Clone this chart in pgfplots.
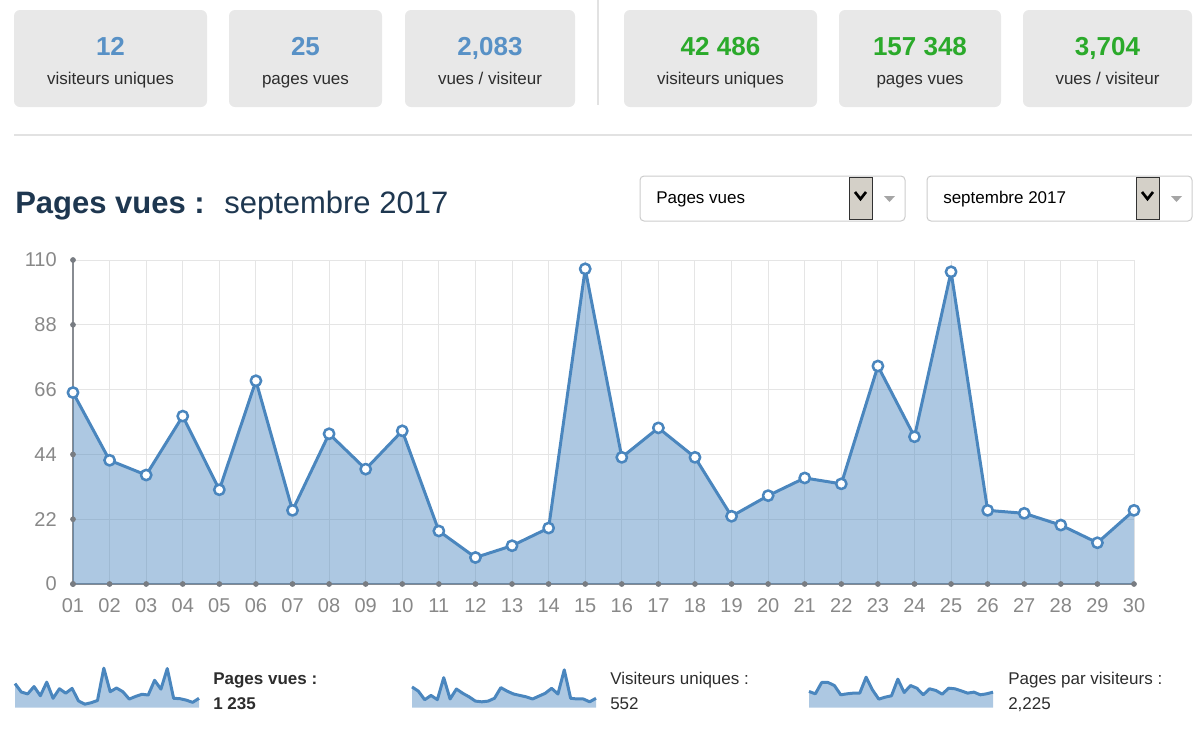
\documentclass[border=0pt]{standalone}
\usepackage{pgfplots}
\pgfplotsset{compat=1.18}
\usepackage{pgfplotstable}
\usepackage{fontspec}
\setmainfont{Liberation Sans}

\definecolor{lineblue}{RGB}{74,134,190}
\definecolor{gridgray}{RGB}{229,229,229}
\definecolor{axisgray}{RGB}{136,140,146}
\definecolor{dotgray}{RGB}{120,124,130}
\definecolor{labelgray}{RGB}{136,136,136}
\definecolor{cardgray}{RGB}{232,232,232}
\definecolor{numblue}{RGB}{88,145,198}
\definecolor{numgreen}{RGB}{43,170,43}
\definecolor{titlenavy}{RGB}{30,55,80}
\definecolor{textdark}{RGB}{45,45,45}
\definecolor{linegray}{RGB}{226,226,226}
\definecolor{boxgray}{RGB}{204,204,204}
\definecolor{btngray}{RGB}{212,208,200}
\definecolor{btnborder}{RGB}{50,50,50}
\definecolor{arrowgray}{RGB}{165,165,165}

\pgfplotstableread{
day pages visitors ratio
1 65 29 2.11
2 42 23 1.80
3 37 11 3.29
4 57 17 3.29
5 32 11 2.89
6 69 42 1.67
7 25 12 1.80
8 51 26 1.89
9 39 20 1.89
10 52 15 3.99
11 18 9 2.32
12 9 8 1.10
13 13 9 1.36
14 19 13 1.54
15 107 28 3.73
16 43 23 1.97
17 53 19 2.89
18 43 17 2.54
19 23 15 1.67
20 30 12 2.46
21 36 16 2.24
22 34 20 1.75
23 74 27 2.54
24 50 19 2.46
25 106 53 2.19
26 25 13 1.89
27 24 12 2.02
28 20 12 1.67
29 14 8 1.80
30 25 13 2.02
}\data

\pgfplotstableread{
x y
1 0
1 22
1 44
1 66
1 88
1 110
}\ydots

\pgfplotsset{
  spark/.style={
    anchor=south west, scale only axis,
    width=138pt, height=30pt,
    xmin=1, xmax=30, ymin=0,
    axis lines=none, ticks=none, clip=false,
  }
}

\begin{document}
\begin{tikzpicture}[x=0.75pt, y=-0.75pt]
\useasboundingbox (0,0) rectangle (1200,729);
\coordinate (mainO) at (73,584);
\coordinate (s1) at (15,707.5);
\coordinate (s2) at (412,707.5);
\coordinate (s3) at (809,707.5);

% ---- top cards
\foreach \a/\b in {14/207, 229/382, 405/575, 624/817, 839/1001, 1023/1192}{
  \fill[cardgray, rounded corners=4.5pt] (\a,10) rectangle (\b,107);
}
\draw[linegray, line width=1.5pt] (598,0) -- (598,105);
\draw[linegray, line width=1.5pt] (14,135) -- (1192,135);

\tikzset{num/.style={anchor=base, inner sep=0pt, font=\fontsize{19.5}{22}\selectfont\bfseries},
         lab/.style={anchor=base, inner sep=0pt, text=textdark, font=\fontsize{12.75}{15}\selectfont}}
\node[num, text=numblue] at (110.5,55) {12};
\node[lab] at (110.5,84) {visiteurs uniques};
\node[num, text=numblue] at (305.5,55) {25};
\node[lab] at (305.5,84) {pages vues};
\node[num, text=numblue] at (490,55) {2,083};
\node[lab] at (490,84) {vues / visiteur};
\node[num, text=numgreen] at (720.5,55) {42 486};
\node[lab] at (720.5,84) {visiteurs uniques};
\node[num, text=numgreen] at (920,55) {157 348};
\node[lab] at (920,84) {pages vues};
\node[num, text=numgreen] at (1107.5,55) {3,704};
\node[lab] at (1107.5,84) {vues / visiteur};

% ---- title
\node[anchor=base west, inner sep=0pt, text=titlenavy, font=\fontsize{23.25}{27}\selectfont\bfseries] at (15,213) {Pages vues :};
\node[anchor=base west, inner sep=0pt, text=titlenavy, font=\fontsize{23.25}{27}\selectfont] at (224,213) {septembre 2017};

% ---- dropdowns
\foreach \a/\b/\t in {640/905/Pages vues, 927/1192/septembre 2017}{
  \draw[boxgray, fill=white, rounded corners=3pt, line width=0.75pt] (\a,176) rectangle (\b,221);
  \node[anchor=base west, inner sep=0pt, text=black, font=\fontsize{12.75}{15}\selectfont] at (\a+16,203) {\t};
  \draw[fill=btngray, draw=btnborder, line width=0.75pt] (\b-56,177) rectangle (\b-33,219);
  \draw[black, line width=2pt] (\b-50,192) -- (\b-44.5,199) -- (\b-39,192);
  \fill[arrowgray] (\b-21,196) -- (\b-10,196) -- (\b-15.5,202) -- cycle;
}

% ---- main chart
\begin{axis}[
  at={(mainO)}, anchor=south west, scale only axis,
  width=795.75pt, height=243pt,
  xmin=1, xmax=30, ymin=0, ymax=110,
  xtick={1,...,30},
  xticklabels={01,02,03,04,05,06,07,08,09,10,11,12,13,14,15,16,17,18,19,20,21,22,23,24,25,26,27,28,29,30},
  ytick={0,22,44,66,88,110},
  yticklabels={0,22,44,66,88,110},
  grid=major, grid style={draw=gridgray, line width=0.75pt},
  axis lines=left,
  axis line style={-, draw=axisgray, line width=1.5pt},
  major tick length=0pt,
  tick label style={font=\fontsize{15}{18}\selectfont, text=labelgray},
  xticklabel style={anchor=north, inner sep=0pt, yshift=-10.5pt},
  yticklabel style={anchor=east, inner sep=0pt, xshift=-12pt},
  clip=false,
]
\addplot[draw=none, fill=lineblue, fill opacity=0.45] table[x=day, y=pages] {\data} \closedcycle;
\addplot[only marks, mark=*, mark size=1.9pt, dotgray] table[x=day, y expr=0] {\data};
\addplot[only marks, mark=*, mark size=1.9pt, dotgray] table[x=x, y=y] {\ydots};
\addplot[lineblue, line width=2.25pt, line join=round, mark=*, mark size=3.9pt,
  mark options={fill=white, draw=lineblue, line width=1.9pt}] table[x=day, y=pages] {\data};
\end{axis}

% ---- sparklines
\begin{axis}[spark, at={(s1)}, ymax=108.8]
\addplot[draw=none, fill=lineblue, fill opacity=0.45] table[x=day, y=pages] {\data} \closedcycle;
\addplot[lineblue, line width=2.25pt, line join=round] table[x=day, y=pages] {\data};
\end{axis}
\begin{axis}[spark, at={(s2)}, ymax=56.3]
\addplot[draw=none, fill=lineblue, fill opacity=0.45] table[x=day, y=visitors] {\data} \closedcycle;
\addplot[lineblue, line width=2.25pt, line join=round] table[x=day, y=visitors] {\data};
\end{axis}
\begin{axis}[spark, at={(s3)}, ymax=5.26]
\addplot[draw=none, fill=lineblue, fill opacity=0.45] table[x=day, y=ratio] {\data} \closedcycle;
\addplot[lineblue, line width=2.25pt, line join=round] table[x=day, y=ratio] {\data};
\end{axis}

\tikzset{bl/.style={anchor=base west, inner sep=0pt, text=textdark, font=\fontsize{12.75}{15}\selectfont}}
\node[bl, font=\fontsize{12.75}{15}\selectfont\bfseries] at (213,684) {Pages vues :};
\node[bl, font=\fontsize{12.75}{15}\selectfont\bfseries] at (213,709) {1 235};
\node[bl] at (610,684) {Visiteurs uniques :};
\node[bl] at (610,709) {552};
\node[bl] at (1008,684) {Pages par visiteurs :};
\node[bl] at (1008,709) {2,225};
\end{tikzpicture}
\end{document}
